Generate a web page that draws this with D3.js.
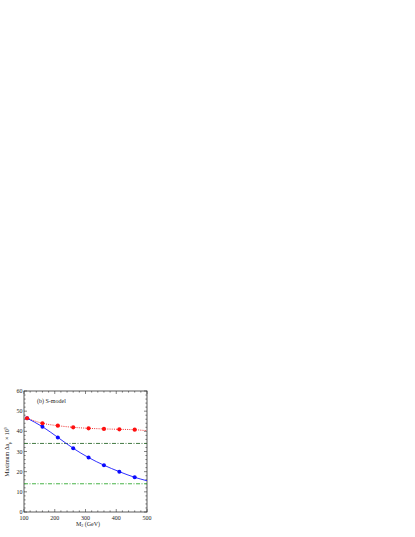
<!DOCTYPE html>
<html><head><meta charset="utf-8">
<script src="https://cdn.jsdelivr.net/npm/d3@7"></script>
<style>body{margin:0;background:#fff}svg{display:block}text{font-family:"Liberation Serif","Times New Roman",serif;fill:#222}</style>
</head><body>
<svg id="c" width="415" height="537"></svg>
<script>
const massX = [110,160,210,260,310,360,410,460];
const redY  = [46.5,44.0,42.8,42.0,41.5,41.2,41.0,40.8];
const redLineX = [110,160,210,260,310,360,410,460,500];
const redLineY = [46.5,44.0,42.8,42.0,41.5,41.2,41.0,40.8,40.3];
const blueY = [46.5,42.3,37.0,31.6,27.0,23.2,20.0,17.2];
const blueLineX = [110,160,210,260,310,360,410,460,500];
const blueLineY = [46.5,42.3,37.0,31.6,27.0,23.2,20.0,17.2,15.5];
const hLines = [34,14];
const xTicks = [100,200,300,400,500];
const yTicks = [0,10,20,30,40,50,60];

const svg = d3.select("#c");
const L=24,R=147,T=391,B=512;
const x = d3.scaleLinear().domain([100,500]).range([L,R]);
const y = d3.scaleLinear().domain([0,60]).range([B,T]);
const g = svg.append("g");

// frame
g.append("rect").attr("x",L).attr("y",T).attr("width",R-L).attr("height",B-T)
 .attr("fill","none").attr("stroke","#333").attr("stroke-width",0.8);

// ticks (inward, mirrored)
const xMinor = d3.range(100,501,20), yMinor = d3.range(0,61,2);
const tk = g.append("g").attr("stroke","#333").attr("stroke-width",0.6);
xMinor.forEach(v=>{const len = v%100===0?3:1.6;
  tk.append("line").attr("x1",x(v)).attr("x2",x(v)).attr("y1",B).attr("y2",B-len);
  tk.append("line").attr("x1",x(v)).attr("x2",x(v)).attr("y1",T).attr("y2",T+len);});
yMinor.forEach(v=>{const len = v%10===0?3:1.6;
  tk.append("line").attr("y1",y(v)).attr("y2",y(v)).attr("x1",L).attr("x2",L+len);
  tk.append("line").attr("y1",y(v)).attr("y2",y(v)).attr("x1",R).attr("x2",R-len);});

xTicks.forEach(v=>g.append("text").attr("x",x(v)).attr("y",B+7.5).attr("text-anchor","middle")
  .attr("font-size",6).text(v));
yTicks.forEach(v=>g.append("text").attr("x",L-1.5).attr("y",y(v)+2).attr("text-anchor","end")
  .attr("font-size",6).text(v));

// horizontal dash-dot lines
g.append("line").attr("x1",L).attr("x2",R).attr("y1",y(hLines[0])).attr("y2",y(hLines[0]))
 .attr("stroke","#2e6b2e").attr("stroke-width",0.9).attr("stroke-dasharray","4,1.5,1,1.5");
g.append("line").attr("x1",L).attr("x2",R).attr("y1",y(hLines[1])).attr("y2",y(hLines[1]))
 .attr("stroke","#33aa33").attr("stroke-width",0.9).attr("stroke-dasharray","4,1.5,1,1.5");

const line = d3.line().x(d=>x(d[0])).y(d=>y(d[1])).curve(d3.curveMonotoneX);
g.append("path").datum(redLineX.map((v,i)=>[v,redLineY[i]])).attr("d",line)
 .attr("fill","none").attr("stroke","#f03030").attr("stroke-width",1).attr("stroke-dasharray","1,1.2");
g.append("path").datum(blueLineX.map((v,i)=>[v,blueLineY[i]])).attr("d",line)
 .attr("fill","none").attr("stroke","#1a1aff").attr("stroke-width",0.9);

g.selectAll(".b").data(massX).enter().append("circle").attr("cx",d=>x(d)).attr("cy",(d,i)=>y(blueY[i]))
 .attr("r",2).attr("fill","#0a0aff");
g.selectAll(".r").data(massX).enter().append("circle").attr("cx",d=>x(d)).attr("cy",(d,i)=>y(redY[i]))
 .attr("r",2.1).attr("fill","#ff1010");

// labels
g.append("text").attr("x",37).attr("y",403).attr("font-size",6).text("(b) S-model");
const xl = g.append("text").attr("x",88).attr("y",525.5).attr("text-anchor","middle").attr("font-size",6);
xl.append("tspan").text("M");
xl.append("tspan").attr("font-size",4).attr("dy",1.5).text("2");
xl.append("tspan").attr("dy",-1.5).text(" (GeV)");
const yl = g.append("text").attr("transform","translate(9,452) rotate(-90)").attr("text-anchor","middle").attr("font-size",6);
yl.append("tspan").text("Maximum Δa");
yl.append("tspan").attr("font-size",4).attr("dy",1.5).text("μ");
yl.append("tspan").attr("dy",-1.5).text(" × 10");
yl.append("tspan").attr("font-size",4).attr("dy",-2.5).text("9");
</script>
</body></html>
